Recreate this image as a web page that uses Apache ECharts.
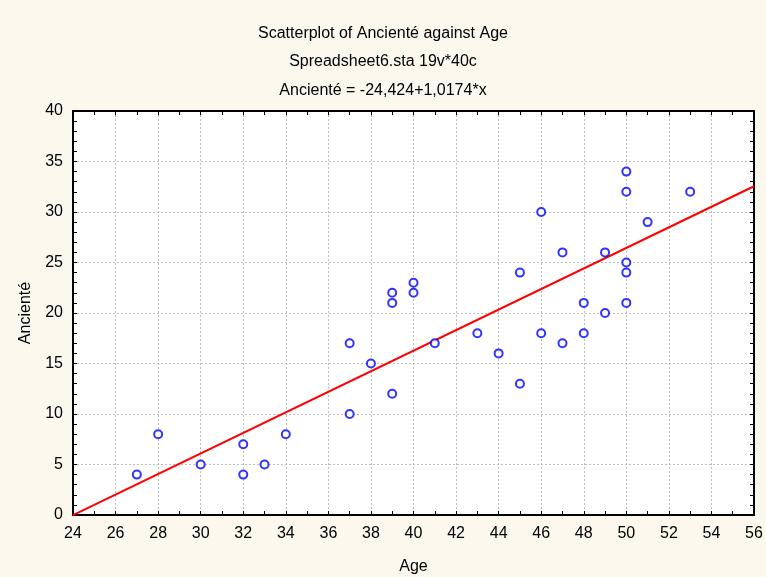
<!DOCTYPE html>
<html>
<head>
<meta charset="utf-8">
<script src="https://cdn.jsdelivr.net/npm/echarts@6/dist/echarts.min.js"></script>
<style>html,body{margin:0;padding:0;background:#FDF8EE;}#c{width:766px;height:577px;}</style>
</head>
<body>
<div id="c"></div>
<script>
var ages =      [27,28,30,32,32,33,34,37,37,38,39,39,39,40,40,41,43,44,45,45,46,46,47,47,48,48,49,49,50,50,50,50,50,51,53];
var anciennete = [4, 8, 5, 7, 4, 5, 8,17,10,15,22,21,12,23,22,17,18,16,24,13,30,18,26,17,21,18,26,20,34,32,25,24,21,29,32];
var intercept = -24.424;
var slope = 1.0174;
var lineX = [24, 56];
var titleLines = ['Scatterplot of Ancienté against Age', 'Spreadsheet6.sta 19v*40c', 'Ancienté = -24,424+1,0174*x'];

var pts = ages.map(function(a, i){ return [a, anciennete[i]]; });
var linePts = lineX.map(function(x){ return [x, intercept + slope * x]; });

var font = 'Liberation Sans, Arial, sans-serif';
var axisLine = {show: true, onZero: false, lineStyle: {color: '#000', width: 2}};
var tick = {show: true, inside: true, length: 4, lineStyle: {color: '#000', width: 1}};
var minor = function(n){ return {show: true, splitNumber: n, length: 4, lineStyle: {color: '#000', width: 1}}; };
var grid = {show: true, lineStyle: {color: '#bdbdbd', type: [2, 2], width: 1}};

var chart = echarts.init(document.getElementById('c'));
chart.setOption({
  backgroundColor: '#FDF8EE',
  animation: false,
  title: titleLines.map(function(t, i){
    return {text: t, left: 'center', top: [21, 49, 78][i], textStyle: {fontFamily: font, fontSize: 16, fontWeight: 'normal', color: '#000'}};
  }),
  grid: {left: 73, right: 12, top: 111, bottom: 62, backgroundColor: '#fff', show: true, borderWidth: 0,
         containLabel: false, outerBoundsMode: 'none'},
  xAxis: [
    {type: 'value', position: 'bottom', min: 24, max: 56, interval: 2,
     name: 'Age', nameLocation: 'middle', nameGap: 44,
     nameTextStyle: {fontFamily: font, fontSize: 16, color: '#000'},
     axisLine: axisLine, axisTick: tick, minorTick: minor(2), splitLine: grid,
     axisLabel: {fontFamily: font, fontSize: 16, color: '#000', margin: 11}},
    {type: 'value', position: 'top', min: 24, max: 56, interval: 2,
     axisLine: axisLine, axisTick: tick, minorTick: minor(2), splitLine: {show: false},
     axisLabel: {show: false}}
  ],
  yAxis: [
    {type: 'value', position: 'left', min: 0, max: 40, interval: 5,
     name: 'Ancienté', nameLocation: 'middle', nameGap: 39, nameRotate: 90,
     nameTextStyle: {fontFamily: font, fontSize: 16, color: '#000'},
     axisLine: axisLine, axisTick: tick, minorTick: minor(5), splitLine: grid,
     axisLabel: {fontFamily: font, fontSize: 16, color: '#000', margin: 10}},
    {type: 'value', position: 'right', min: 0, max: 40, interval: 5,
     axisLine: axisLine, axisTick: tick, minorTick: minor(5), splitLine: {show: false},
     axisLabel: {show: false}}
  ],
  series: [
    {type: 'line', data: linePts, symbol: 'none', lineStyle: {color: '#ff0000', width: 2}, z: 3},
    {type: 'scatter', data: pts, symbol: 'emptyCircle', symbolSize: 8,
     itemStyle: {color: '#0000ff', borderColor: '#0000ff', borderWidth: 1.1}, z: 4}
  ]
});
</script>
</body>
</html>
